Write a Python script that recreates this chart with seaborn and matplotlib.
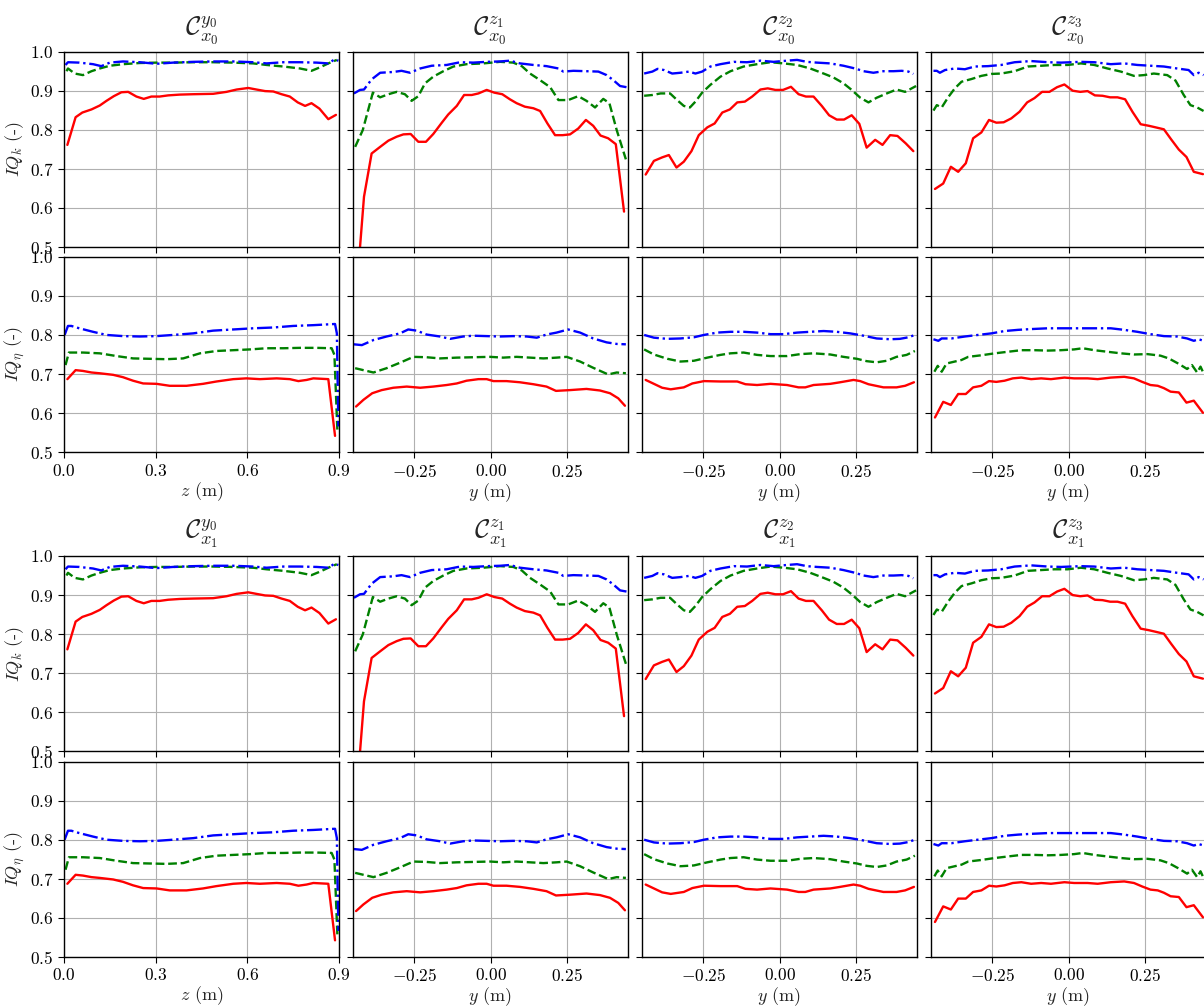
import matplotlib
matplotlib.use("Agg")
import matplotlib.pyplot as plt
import seaborn as sns
import pandas as pd

# ---------------- data ----------------
# Panel y0 (abscissa z), IQ_k
Y0_K_RED_X = [0.011,0.038,0.06,0.09,0.117,0.139,0.163,0.188,0.21,0.237,0.261,0.286,0.313,0.341,0.379,0.423,0.488,0.532,0.565,0.603,0.63,0.658,0.685,0.712,0.739,0.765,0.789,0.81,0.836,0.865,0.89]
Y0_K_RED = [0.761,0.832,0.844,0.852,0.862,0.874,0.886,0.896,0.897,0.885,0.879,0.885,0.885,0.888,0.89,0.891,0.892,0.897,0.903,0.907,0.903,0.899,0.898,0.891,0.885,0.87,0.861,0.868,0.854,0.827,0.838]
Y0_K_GREEN_X = [0.008,0.013,0.035,0.062,0.09,0.117,0.15,0.193,0.248,0.303,0.357,0.423,0.488,0.554,0.619,0.663,0.718,0.772,0.81,0.838,0.865,0.893]
Y0_K_GREEN = [0.950,0.957,0.944,0.940,0.950,0.957,0.964,0.968,0.971,0.972,0.972,0.973,0.973,0.972,0.970,0.966,0.962,0.957,0.951,0.96,0.970,0.979]
Y0_K_BLUE_X = [0.005,0.013,0.05,0.095,0.122,0.15,0.193,0.248,0.303,0.357,0.423,0.488,0.554,0.619,0.663,0.718,0.772,0.827,0.865,0.885,0.898]
Y0_K_BLUE = [0.966,0.973,0.972,0.968,0.963,0.972,0.975,0.973,0.969,0.972,0.974,0.975,0.975,0.973,0.970,0.973,0.973,0.972,0.970,0.980,0.977]

# Panel y0, IQ_eta
Y0_E_RED_X = [0.011,0.038,0.062,0.09,0.117,0.161,0.193,0.226,0.259,0.303,0.346,0.401,0.455,0.499,0.554,0.597,0.641,0.696,0.739,0.767,0.794,0.816,0.865,0.887]
Y0_E_RED = [0.687,0.710,0.708,0.704,0.702,0.698,0.692,0.683,0.676,0.675,0.670,0.670,0.675,0.681,0.687,0.689,0.687,0.689,0.687,0.682,0.685,0.689,0.687,0.542]
Y0_E_GREEN_X = [0.005,0.016,0.062,0.117,0.172,0.226,0.281,0.335,0.39,0.445,0.499,0.554,0.609,0.663,0.718,0.772,0.827,0.876,0.885,0.895]
Y0_E_GREEN = [0.723,0.755,0.755,0.753,0.746,0.740,0.739,0.738,0.740,0.753,0.759,0.761,0.763,0.766,0.766,0.767,0.767,0.766,0.749,0.549]
Y0_E_BLUE_X = [0.002,0.013,0.024,0.05,0.095,0.139,0.193,0.248,0.303,0.357,0.423,0.488,0.554,0.619,0.685,0.75,0.816,0.887,0.893,0.898]
Y0_E_BLUE = [0.8,0.823,0.823,0.817,0.808,0.8,0.797,0.796,0.797,0.8,0.804,0.811,0.814,0.817,0.819,0.823,0.825,0.828,0.804,0.566]

# Panel z1 (abscissa y), IQ_k
Z1_K_RED_X = [-0.44,-0.415,-0.39,-0.362,-0.335,-0.308,-0.286,-0.262,-0.237,-0.212,-0.188,-0.16,-0.139,-0.111,-0.087,-0.062,-0.04,-0.013,0.012,0.038,0.063,0.085,0.112,0.14,0.162,0.186,0.211,0.236,0.26,0.287,0.312,0.336,0.36,0.385,0.41,0.437]
Z1_K_RED = [0.38,0.628,0.739,0.756,0.772,0.782,0.788,0.789,0.769,0.769,0.789,0.818,0.839,0.861,0.889,0.889,0.893,0.902,0.895,0.891,0.878,0.868,0.859,0.855,0.848,0.816,0.786,0.786,0.788,0.803,0.825,0.81,0.785,0.778,0.763,0.590]
Z1_K_GREEN_X = [-0.444,-0.419,-0.386,-0.362,-0.335,-0.308,-0.281,-0.259,-0.237,-0.215,-0.188,-0.155,-0.122,-0.079,-0.024,0.031,0.074,0.102,0.129,0.162,0.195,0.222,0.254,0.287,0.314,0.342,0.369,0.389,0.413,0.443]
Z1_K_GREEN = [0.756,0.799,0.895,0.883,0.891,0.897,0.891,0.874,0.886,0.919,0.936,0.95,0.962,0.968,0.97,0.974,0.972,0.963,0.944,0.927,0.909,0.876,0.876,0.886,0.874,0.857,0.879,0.868,0.799,0.724]
Z1_K_BLUE_X = [-0.448,-0.428,-0.415,-0.39,-0.362,-0.319,-0.292,-0.264,-0.231,-0.193,-0.144,-0.1,-0.057,-0.013,0.031,0.063,0.096,0.14,0.183,0.222,0.238,0.271,0.314,0.353,0.38,0.402,0.424,0.445]
Z1_K_BLUE = [0.893,0.902,0.903,0.929,0.946,0.948,0.951,0.946,0.957,0.964,0.966,0.973,0.972,0.974,0.975,0.977,0.970,0.966,0.963,0.957,0.949,0.951,0.950,0.949,0.94,0.927,0.912,0.909]

# Panel z1, IQ_eta
Z1_E_RED_X = [-0.441,-0.417,-0.388,-0.357,-0.319,-0.275,-0.231,-0.188,-0.144,-0.111,-0.079,-0.04,-0.013,0.009,0.052,0.096,0.14,0.183,0.214,0.26,0.314,0.358,0.391,0.418,0.44]
Z1_E_RED = [0.617,0.634,0.651,0.659,0.665,0.668,0.665,0.668,0.672,0.676,0.683,0.687,0.687,0.682,0.682,0.679,0.674,0.668,0.657,0.659,0.662,0.658,0.651,0.638,0.619]
Z1_E_GREEN_X = [-0.444,-0.417,-0.384,-0.341,-0.297,-0.253,-0.21,-0.166,-0.111,-0.057,-0.002,0.041,0.085,0.129,0.173,0.216,0.249,0.293,0.336,0.385,0.413,0.443]
Z1_E_GREEN = [0.715,0.710,0.704,0.715,0.729,0.744,0.743,0.740,0.742,0.743,0.744,0.742,0.744,0.742,0.740,0.742,0.744,0.732,0.716,0.699,0.704,0.702]
Z1_E_BLUE_X = [-0.448,-0.422,-0.384,-0.341,-0.297,-0.27,-0.242,-0.21,-0.166,-0.133,-0.09,-0.057,-0.013,0.031,0.074,0.118,0.151,0.183,0.216,0.254,0.293,0.336,0.38,0.413,0.443]
Z1_E_BLUE = [0.776,0.774,0.787,0.796,0.804,0.814,0.811,0.801,0.796,0.790,0.796,0.798,0.797,0.796,0.797,0.796,0.793,0.801,0.806,0.814,0.806,0.791,0.781,0.777,0.776]

# Panel z2, IQ_k
Z2_K_RED_X = [-0.439,-0.412,-0.385,-0.363,-0.338,-0.314,-0.289,-0.265,-0.237,-0.213,-0.188,-0.163,-0.139,-0.114,-0.09,-0.063,-0.039,-0.014,0.011,0.037,0.062,0.086,0.111,0.138,0.162,0.187,0.211,0.236,0.261,0.285,0.313,0.337,0.362,0.386,0.413,0.438]
Z2_K_RED = [0.685,0.720,0.729,0.735,0.703,0.718,0.745,0.786,0.806,0.816,0.844,0.852,0.870,0.872,0.885,0.903,0.906,0.902,0.902,0.91,0.891,0.885,0.885,0.861,0.837,0.826,0.826,0.837,0.815,0.754,0.774,0.761,0.786,0.784,0.765,0.745]
Z2_K_GREEN_X = [-0.444,-0.417,-0.39,-0.359,-0.336,-0.314,-0.294,-0.276,-0.254,-0.227,-0.194,-0.161,-0.118,-0.074,-0.03,0.013,0.057,0.1,0.144,0.176,0.209,0.236,0.264,0.291,0.318,0.351,0.383,0.411,0.447]
Z2_K_GREEN = [0.887,0.889,0.893,0.893,0.876,0.861,0.857,0.872,0.895,0.915,0.936,0.950,0.962,0.968,0.973,0.97,0.966,0.957,0.944,0.934,0.919,0.902,0.882,0.870,0.882,0.893,0.903,0.897,0.912]
Z2_K_BLUE_X = [-0.444,-0.417,-0.4,-0.379,-0.352,-0.325,-0.297,-0.276,-0.254,-0.227,-0.194,-0.15,-0.107,-0.063,-0.02,0.024,0.057,0.089,0.122,0.166,0.209,0.247,0.275,0.307,0.34,0.373,0.4,0.422,0.438]
Z2_K_BLUE = [0.944,0.949,0.956,0.953,0.944,0.946,0.949,0.944,0.949,0.962,0.968,0.974,0.973,0.977,0.974,0.977,0.979,0.974,0.972,0.970,0.964,0.957,0.950,0.946,0.950,0.950,0.951,0.949,0.943]

# Panel z2, IQ_eta
Z2_E_RED_X = [-0.439,-0.412,-0.385,-0.357,-0.314,-0.286,-0.248,-0.194,-0.139,-0.112,-0.074,-0.03,0.024,0.062,0.084,0.111,0.166,0.198,0.242,0.264,0.291,0.34,0.383,0.411,0.44]
Z2_E_RED = [0.685,0.675,0.665,0.661,0.666,0.676,0.682,0.681,0.681,0.674,0.672,0.675,0.672,0.666,0.666,0.672,0.675,0.679,0.685,0.682,0.674,0.666,0.666,0.67,0.679]
Z2_E_GREEN_X = [-0.444,-0.412,-0.368,-0.325,-0.281,-0.237,-0.194,-0.161,-0.118,-0.074,-0.03,0.024,0.068,0.111,0.166,0.209,0.253,0.285,0.318,0.351,0.383,0.416,0.443]
Z2_E_GREEN = [0.763,0.750,0.739,0.732,0.734,0.742,0.749,0.753,0.755,0.749,0.746,0.746,0.751,0.753,0.750,0.744,0.739,0.733,0.730,0.734,0.744,0.749,0.759]
Z2_E_BLUE_X = [-0.444,-0.412,-0.368,-0.325,-0.281,-0.248,-0.205,-0.161,-0.118,-0.074,-0.03,0.013,0.057,0.1,0.144,0.187,0.231,0.275,0.318,0.362,0.394,0.422,0.443]
Z2_E_BLUE = [0.8,0.793,0.790,0.791,0.794,0.8,0.806,0.808,0.808,0.806,0.802,0.802,0.806,0.808,0.810,0.808,0.804,0.798,0.791,0.789,0.790,0.794,0.8]

# Panel z3, IQ_k
Z3_K_RED_X = [-0.438,-0.411,-0.386,-0.362,-0.337,-0.313,-0.286,-0.261,-0.237,-0.213,-0.188,-0.161,-0.136,-0.112,-0.087,-0.063,-0.038,-0.014,0.013,0.038,0.062,0.086,0.111,0.136,0.16,0.185,0.209,0.236,0.263,0.285,0.312,0.336,0.361,0.386,0.41,0.44]
Z3_K_RED = [0.648,0.662,0.705,0.692,0.714,0.778,0.793,0.825,0.818,0.819,0.829,0.846,0.870,0.881,0.897,0.897,0.909,0.916,0.9,0.897,0.899,0.888,0.887,0.883,0.883,0.878,0.846,0.814,0.810,0.806,0.801,0.775,0.749,0.730,0.692,0.686]
Z3_K_GREEN_X = [-0.443,-0.432,-0.416,-0.395,-0.373,-0.351,-0.318,-0.286,-0.253,-0.221,-0.177,-0.134,-0.09,-0.047,-0.003,0.04,0.084,0.127,0.171,0.214,0.247,0.279,0.323,0.35,0.377,0.399,0.421,0.442]
Z3_K_GREEN = [0.849,0.863,0.857,0.883,0.906,0.923,0.930,0.938,0.943,0.944,0.950,0.962,0.964,0.966,0.966,0.970,0.966,0.957,0.949,0.938,0.940,0.944,0.940,0.926,0.889,0.863,0.857,0.848]
Z3_K_BLUE_X = [-0.443,-0.432,-0.422,-0.405,-0.373,-0.34,-0.308,-0.264,-0.221,-0.177,-0.123,-0.068,-0.025,0.04,0.084,0.138,0.182,0.225,0.268,0.312,0.355,0.393,0.41,0.426,0.442]
Z3_K_BLUE = [0.951,0.951,0.946,0.953,0.957,0.955,0.962,0.963,0.966,0.973,0.976,0.973,0.972,0.974,0.973,0.968,0.970,0.966,0.964,0.962,0.957,0.953,0.940,0.946,0.940]

# Panel z3, IQ_eta
Z3_E_RED_X = [-0.438,-0.411,-0.386,-0.362,-0.337,-0.313,-0.286,-0.261,-0.237,-0.21,-0.183,-0.155,-0.123,-0.09,-0.058,-0.014,0.018,0.062,0.095,0.138,0.182,0.214,0.241,0.268,0.292,0.312,0.334,0.361,0.386,0.41,0.44]
Z3_E_RED = [0.589,0.629,0.621,0.649,0.649,0.666,0.670,0.682,0.680,0.683,0.689,0.691,0.687,0.689,0.687,0.691,0.689,0.689,0.687,0.691,0.693,0.689,0.680,0.672,0.670,0.664,0.655,0.653,0.627,0.632,0.601]
Z3_E_GREEN_X = [-0.44,-0.429,-0.416,-0.4,-0.373,-0.351,-0.329,-0.286,-0.242,-0.199,-0.155,-0.112,-0.068,-0.025,0.018,0.046,0.084,0.127,0.171,0.214,0.258,0.301,0.328,0.361,0.388,0.404,0.421,0.432,0.442]
Z3_E_GREEN = [0.706,0.721,0.706,0.727,0.732,0.736,0.744,0.748,0.753,0.757,0.761,0.761,0.760,0.761,0.763,0.766,0.761,0.757,0.753,0.750,0.751,0.747,0.740,0.726,0.713,0.723,0.704,0.719,0.702]
Z3_E_BLUE_X = [-0.443,-0.427,-0.416,-0.384,-0.34,-0.297,-0.253,-0.21,-0.166,-0.123,-0.068,-0.014,0.029,0.084,0.138,0.182,0.225,0.268,0.312,0.355,0.388,0.41,0.426,0.442]
Z3_E_BLUE = [0.789,0.785,0.791,0.791,0.796,0.8,0.804,0.810,0.813,0.815,0.817,0.817,0.817,0.817,0.817,0.813,0.808,0.802,0.797,0.796,0.791,0.785,0.789,0.785]

TITLE_SUPERS = ["y_0", "z_1", "z_2", "z_3"]
GROUP_SUBS = ["x_0", "x_1"]
XLABELS = ["$z$ (m)", "$y$ (m)", "$y$ (m)", "$y$ (m)"]
YLABELS = ["$IQ_k$ (-)", "$IQ_\\eta$ (-)"]
Y_TICKS = [0.5, 0.6, 0.7, 0.8, 0.9, 1.0]
Z_TICKS = [0.0, 0.3, 0.6, 0.9]
YPOS_TICKS = [-0.25, 0.0, 0.25]

K_SERIES = [
    [(Y0_K_RED_X, Y0_K_RED), (Y0_K_GREEN_X, Y0_K_GREEN), (Y0_K_BLUE_X, Y0_K_BLUE)],
    [(Z1_K_RED_X, Z1_K_RED), (Z1_K_GREEN_X, Z1_K_GREEN), (Z1_K_BLUE_X, Z1_K_BLUE)],
    [(Z2_K_RED_X, Z2_K_RED), (Z2_K_GREEN_X, Z2_K_GREEN), (Z2_K_BLUE_X, Z2_K_BLUE)],
    [(Z3_K_RED_X, Z3_K_RED), (Z3_K_GREEN_X, Z3_K_GREEN), (Z3_K_BLUE_X, Z3_K_BLUE)],
]
E_SERIES = [
    [(Y0_E_RED_X, Y0_E_RED), (Y0_E_GREEN_X, Y0_E_GREEN), (Y0_E_BLUE_X, Y0_E_BLUE)],
    [(Z1_E_RED_X, Z1_E_RED), (Z1_E_GREEN_X, Z1_E_GREEN), (Z1_E_BLUE_X, Z1_E_BLUE)],
    [(Z2_E_RED_X, Z2_E_RED), (Z2_E_GREEN_X, Z2_E_GREEN), (Z2_E_BLUE_X, Z2_E_BLUE)],
    [(Z3_E_RED_X, Z3_E_RED), (Z3_E_GREEN_X, Z3_E_GREEN), (Z3_E_BLUE_X, Z3_E_BLUE)],
]
STYLES = [("red", "-"), ("green", "--"), ("blue", "-.")]

# ---------------- style ----------------
sns.set_style("ticks")
plt.rcParams.update({
    "font.family": "serif",
    "font.serif": ["cmr10"],
    "mathtext.fontset": "cm",
    "axes.formatter.use_mathtext": True,
    "axes.unicode_minus": True,
    "font.size": 12.5,
    "axes.edgecolor": "black",
    "axes.linewidth": 1.0,
    "xtick.color": "black",
    "ytick.color": "black",
    "xtick.direction": "out",
    "ytick.direction": "out",
    "xtick.major.size": 4,
    "ytick.major.size": 4,
    "xtick.major.pad": 3.5,
    "ytick.major.pad": 3.5,
    "xtick.labelsize": 12.5,
    "ytick.labelsize": 12.5,
    "axes.labelsize": 13,
    "grid.color": "#b0b0b0",
    "grid.linewidth": 0.8,
})

W, H = 1204, 1006
fig = plt.figure(figsize=(W / 100, H / 100), dpi=100)

col_left = [64, 352.7, 641.7, 930.7]
col_w = 275
row_tb = [(51.7, 246.7), (256.7, 452.3), (556, 751.3), (761.7, 956.7)]

for r in range(4):
    group = r // 2
    metric = r % 2
    series = K_SERIES if metric == 0 else E_SERIES
    top, bot = row_tb[r]
    for c in range(4):
        ax = fig.add_axes([col_left[c] / W, 1 - bot / H, col_w / W, (bot - top) / H])
        for (xs, vs), (col, ls) in zip(series[c], STYLES):
            df = pd.DataFrame({"x": xs, "v": vs})
            sns.lineplot(data=df, x="x", y="v", ax=ax, color=col, linestyle=ls,
                         linewidth=1.7, estimator=None, sort=False, legend=False)
        ax.grid(True)
        ax.set_ylim(0.5, 1.0)
        ax.set_yticks(Y_TICKS)
        if c == 0:
            ax.set_xlim(0.0, 0.9)
            ax.set_xticks(Z_TICKS)
            ax.set_ylabel(YLABELS[metric], labelpad=3)
        else:
            ax.set_xlim(-0.452, 0.449)
            ax.set_xticks(YPOS_TICKS)
            ax.set_ylabel("")
            ax.tick_params(labelleft=False)
        if metric == 0:
            ax.tick_params(labelbottom=False)
            ax.set_xlabel("")
            ax.set_title(r"$\mathcal{C}_{%s}^{%s}$" % (GROUP_SUBS[group], TITLE_SUPERS[c]),
                         fontsize=19, pad=13)
        else:
            ax.set_xlabel(XLABELS[c], labelpad=1)
        for sp in ax.spines.values():
            sp.set_visible(True)
            sp.set_color("black")

fig.savefig("out.png", dpi=100)
